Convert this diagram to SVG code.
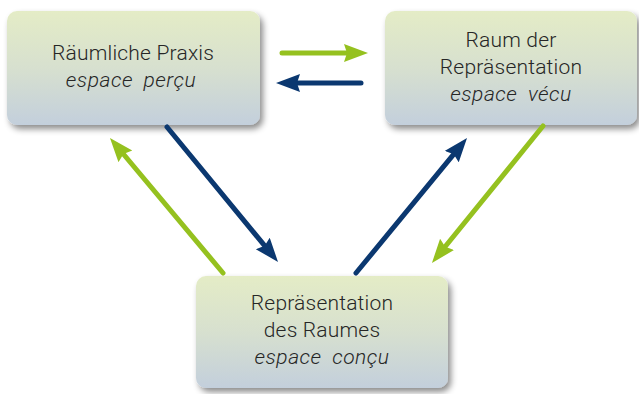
<svg xmlns="http://www.w3.org/2000/svg" width="639" height="394" viewBox="0 0 639 394">
<defs>
<linearGradient id="g" x1="0" y1="0" x2="0" y2="1">
<stop offset="0" stop-color="#e4ecc6"/>
<stop offset="0.5" stop-color="#d7e0cf"/>
<stop offset="1" stop-color="#c3cfdc"/>
</linearGradient>
<filter id="sh" x="-10%" y="-10%" width="125%" height="130%">
<feDropShadow dx="3" dy="4" stdDeviation="3" flood-color="#000" flood-opacity="0.45"/>
</filter>
<marker id="ag" markerUnits="userSpaceOnUse" markerWidth="26" markerHeight="20" refX="9" refY="9" orient="auto">
<path d="M0,0 L24,9 L0,18 L3,9 z" fill="#95c11f"/>
</marker>
<marker id="an" markerUnits="userSpaceOnUse" markerWidth="26" markerHeight="20" refX="9" refY="9" orient="auto">
<path d="M0,0 L24,9 L0,18 L3,9 z" fill="#0b3870"/>
</marker>
<style>
.box{fill:url(#g);filter:url(#sh)}
.t{font-family:Roboto,"Liberation Sans",sans-serif;font-weight:300;font-size:21px;fill:#262626;text-anchor:middle;letter-spacing:0.2px}
.i{font-style:italic;word-spacing:5px;letter-spacing:0.5px}
.gr{stroke:#95c11f;stroke-width:5;fill:none;stroke-linecap:round}
.nv{stroke:#0b3870;stroke-width:5;fill:none;stroke-linecap:round}
</style>
</defs>
<g id="n1">
<rect class="box" x="7" y="11" width="253" height="114" rx="10"/>
<text class="t" x="133" y="60">Räumliche Praxis</text>
<text class="t i" x="131" y="87">espace perçu</text>
</g>
<g id="n2">
<rect class="box" x="385" y="11" width="252" height="114" rx="10"/>
<text class="t" x="511" y="47">Raum der</text>
<text class="t" x="511" y="74">Repräsentation</text>
<text class="t i" x="511" y="101">espace vécu</text>
</g>
<g id="n3">
<rect class="box" x="196" y="276" width="252" height="112" rx="10"/>
<text class="t" x="322" y="310">Repräsentation</text>
<text class="t" x="322" y="337">des Raumes</text>
<text class="t i" x="322" y="364">espace conçu</text>
</g>
<g id="connectors">
<line class="gr" x1="282" y1="53" x2="353" y2="53" marker-end="url(#ag)"/>
<line class="nv" x1="361" y1="83" x2="291" y2="83" marker-end="url(#an)"/>
<line class="nv" x1="167" y1="127" x2="268.5" y2="250.4" marker-end="url(#an)"/>
<line class="gr" x1="223" y1="273" x2="119.6" y2="149.5" marker-end="url(#ag)"/>
<line class="nv" x1="356" y1="273" x2="457.5" y2="149.6" marker-end="url(#an)"/>
<line class="gr" x1="543" y1="126" x2="441.4" y2="251.3" marker-end="url(#ag)"/>
</g>
</svg>
